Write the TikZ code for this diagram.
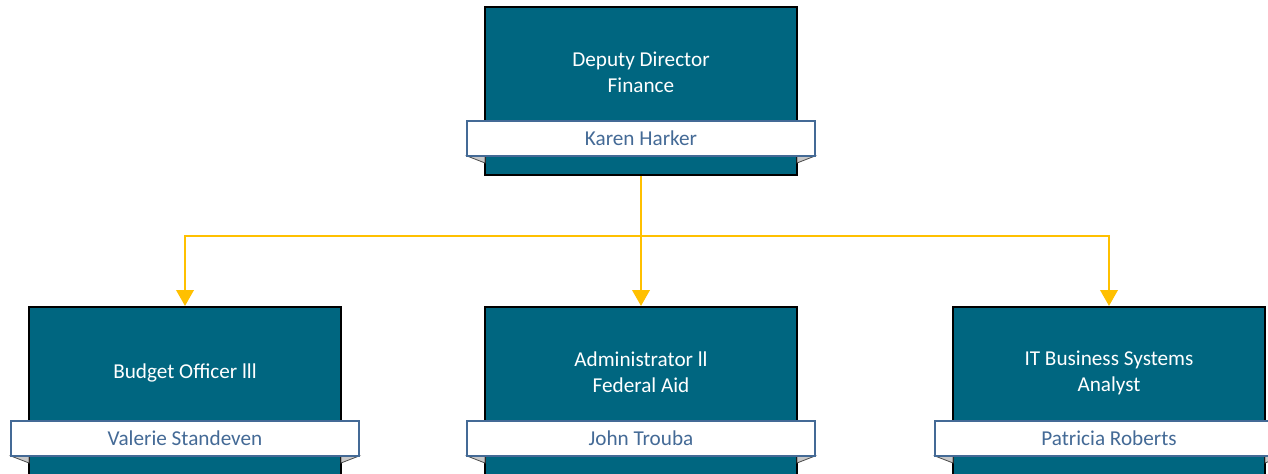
\documentclass[tikz,border=0pt]{standalone}
\usepackage{fontspec}
\setmainfont{Carlito}
\usetikzlibrary{arrows.meta}

\definecolor{boxteal}{RGB}{0,102,128}
\definecolor{namblue}{RGB}{68,106,150}
\definecolor{linkgold}{RGB}{255,192,0}
\definecolor{foldgray}{RGB}{200,200,200}

\tikzset{every picture/.style={line width=0.75pt}}
\tikzset{
  posbox/.style={draw=black, fill=boxteal, line width=1.5pt, minimum width=234pt, minimum height=126pt, inner sep=0pt},
  postitle/.style={text=white, align=center, font=\fontsize{15.9}{19.5}\selectfont, inner sep=0pt},
  nameband/.style={draw=namblue, fill=white, line width=1.5pt, text=namblue, minimum width=261pt, minimum height=26pt, inner sep=0pt, font=\fontsize{15.9}{19.5}\selectfont},
  fold/.style={fill=foldgray, draw=black!70, line width=0.6pt},
  link/.style={draw=linkgold, line width=2pt},
  linkarrow/.style={link, -{Triangle[length=12pt,width=13pt]}}
}

\begin{document}
\begin{tikzpicture}[x=0.75pt,y=0.75pt,yscale=-1,xscale=1]
\clip (0,0) rectangle (1268,474);

%Deputy Director
\node [posbox] (dd) at (641,91) {};
\node [postitle] (ddtitle) at (641,72.5) {Deputy Director\\Finance};
\fill [fold] (467,156) -- (485,156) -- (485,163) -- cycle;
\fill [fold] (815,156) -- (797,156) -- (797,163) -- cycle;
\node [nameband] (ddname) at (641,138.5) {\raisebox{-1pt}{Karen Harker}};

%Budget Officer
\node [posbox] (bo) at (185,391) {};
\node [postitle] (botitle) at (185,372.5) {Budget Officer lll};
\fill [fold] (11,456) -- (29,456) -- (29,463) -- cycle;
\fill [fold] (359,456) -- (341,456) -- (341,463) -- cycle;
\node [nameband] (boname) at (185,438.5) {\raisebox{-1pt}{Valerie Standeven}};

%Administrator
\node [posbox] (ad) at (641,391) {};
\node [postitle] (adtitle) at (641,372.5) {Administrator ll\\Federal Aid};
\fill [fold] (467,456) -- (485,456) -- (485,463) -- cycle;
\fill [fold] (815,456) -- (797,456) -- (797,463) -- cycle;
\node [nameband] (adname) at (641,438.5) {\raisebox{-1pt}{John Trouba}};

%IT Analyst
\node [posbox] (it) at (1109,391) {};
\node [postitle] (ittitle) at (1109,372.5) {IT Business Systems\\Analyst};
\fill [fold] (935,456) -- (953,456) -- (953,463) -- cycle;
\fill [fold] (1283,456) -- (1265,456) -- (1265,463) -- cycle;
\node [nameband] (itname) at (1109,438.5) {\raisebox{-1pt}{Patricia Roberts}};

%connectors
\coordinate (split) at (641,236);
\draw [link] (dd.south) -- (split);
\draw [linkarrow] (split) -| (bo.north);
\draw [linkarrow] (split) -- (ad.north);
\draw [linkarrow] (split) -| (it.north);

\end{tikzpicture}
\end{document}
